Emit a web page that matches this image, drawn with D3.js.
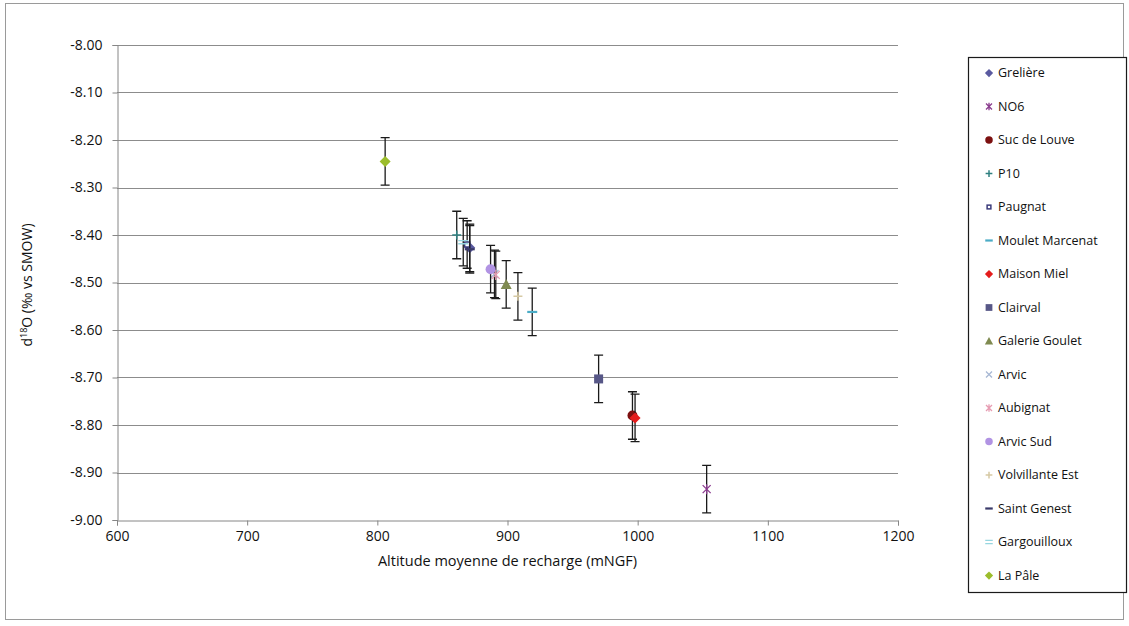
<!DOCTYPE html>
<html>
<head>
<meta charset="utf-8">
<script src="https://cdn.jsdelivr.net/npm/d3@7/dist/d3.min.js"></script>
<style>
  html, body { margin: 0; padding: 0; background: #fff; }
  svg { display: block; font-family: "Open Sans", sans-serif; }
</style>
</head>
<body>
<svg id="chart" width="1129" height="626"></svg>
<script>
// ---- data ----
const seriesNames = ["Grelière", "NO6", "Suc de Louve", "P10", "Paugnat", "Moulet Marcenat",
  "Maison Miel", "Clairval", "Galerie Goulet", "Arvic", "Aubignat", "Arvic Sud",
  "Volvillante Est", "Saint Genest", "Gargouilloux", "La Pâle"];
const altitude = [871, 1053, 996, 861, 869, 919, 998, 970, 899, 890, 891, 887, 908, 871, 866, 806];
const d18O = [-8.427, -8.935, -8.780, -8.400, -8.420, -8.562, -8.785, -8.703, -8.504, -8.482, -8.484, -8.472, -8.529, -8.430, -8.415, -8.245];
const errorValues = [0.05, 0.05, 0.05, 0.05, 0.05, 0.05, 0.05, 0.05, 0.05, 0.05, 0.05, 0.05, 0.05, 0.05, 0.05, 0.05];
const xTicks = [600, 700, 800, 900, 1000, 1100, 1200];
const yTicks = [-8.0, -8.1, -8.2, -8.3, -8.4, -8.5, -8.6, -8.7, -8.8, -8.9, -9.0];
const xTitle = "Altitude moyenne de recharge (mNGF)";

// ---- styles (separate from data) ----
const markerStyle = {
  "Grelière": { shape: "diamond", color: "#5a5aa0" },
  "NO6": { shape: "asterisk", color: "#8a3c8e" },
  "Suc de Louve": { shape: "circle", color: "#7c1010" },
  "P10": { shape: "plus", color: "#2f8080" },
  "Paugnat": { shape: "smallsquare", color: "#3c3c7c" },
  "Moulet Marcenat": { shape: "dash", color: "#4bacc6" },
  "Maison Miel": { shape: "diamond", color: "#e41c1c" },
  "Clairval": { shape: "square", color: "#575787" },
  "Galerie Goulet": { shape: "triangle", color: "#7f8a50" },
  "Arvic": { shape: "x", color: "#a8b8d4" },
  "Aubignat": { shape: "asterisk", color: "#e79cb2" },
  "Arvic Sud": { shape: "circle", color: "#b193e3" },
  "Volvillante Est": { shape: "plus", color: "#d6c9a4" },
  "Saint Genest": { shape: "dash", color: "#3a3a6a" },
  "Gargouilloux": { shape: "equals", color: "#97d6e0" },
  "La Pâle": { shape: "diamond", color: "#9cbd2c" }
};

const svg = d3.select("#chart");
const plot = { left: 117, right: 898, top: 45, bottom: 520 };
const textColor = "#111";

// outer chart border
svg.append("rect").attr("x", 5.5).attr("y", 3.5).attr("width", 1118).attr("height", 616)
  .attr("fill", "#fff").attr("stroke", "#9a9a9a").attr("stroke-width", 1);

const x = d3.scaleLinear().domain([600, 1200]).range([plot.left, plot.right]);
const y = d3.scaleLinear().domain([-9, -8]).range([plot.bottom, plot.top]);

// gridlines
svg.append("g").selectAll("line").data(yTicks.filter(t => t !== -9)).join("line")
  .attr("x1", plot.left).attr("x2", plot.right)
  .attr("y1", d => Math.round(y(d)) + 0.5).attr("y2", d => Math.round(y(d)) + 0.5)
  .attr("stroke", "#8c8c8c").attr("stroke-width", 1);

// axes
const axisColor = "#868686";
const yAxis = d3.axisLeft(y).tickValues(yTicks).tickSize(5).tickPadding(10)
  .tickFormat(d => d.toFixed(2));
const gy = svg.append("g").attr("transform", `translate(${plot.left + 0.5},0)`).call(yAxis);
gy.select(".domain").attr("stroke", axisColor);
gy.selectAll(".tick line").attr("stroke", axisColor);
gy.selectAll(".tick text").attr("fill", textColor).style("font-size", "14px")
  .style("font-family", "'Open Sans', sans-serif");

const xAxis = d3.axisBottom(x).tickValues(xTicks).tickSize(5).tickPadding(6)
  .tickFormat(d => String(d));
const gx = svg.append("g").attr("transform", `translate(0,${plot.bottom + 0.5})`).call(xAxis);
gx.select(".domain").attr("stroke", axisColor);
gx.selectAll(".tick line").attr("stroke", axisColor);
gx.selectAll(".tick text").attr("fill", textColor).style("font-size", "14px")
  .style("font-family", "'Open Sans', sans-serif");

// axis titles
svg.append("text").attr("x", (plot.left + plot.right) / 2).attr("y", 566)
  .attr("text-anchor", "middle").attr("fill", textColor).style("font-size", "14.5px")
  .text(xTitle);

const yTitle = svg.append("text").attr("transform", "translate(32,285) rotate(-90)")
  .attr("text-anchor", "middle").attr("fill", textColor).style("font-size", "14px");
yTitle.append("tspan").text("d");
yTitle.append("tspan").attr("dy", -5).style("font-size", "9px").text("18");
yTitle.append("tspan").attr("dy", 5).text("O (‰ vs SMOW)");

// marker drawing
function drawMarker(g, shape, color, s) {
  const k = s || 1;
  switch (shape) {
    case "diamond":
      g.append("path").attr("d", `M0,${-5.5 * k}L${5.5 * k},0L0,${5.5 * k}L${-5.5 * k},0Z`).attr("fill", color);
      break;
    case "circle":
      g.append("circle").attr("r", 5 * k).attr("fill", color);
      break;
    case "square":
      g.append("rect").attr("x", -4.5 * k).attr("y", -4.5 * k).attr("width", 9 * k).attr("height", 9 * k).attr("fill", color);
      break;
    case "smallsquare":
      g.append("rect").attr("x", -2.5 * k).attr("y", -2.5 * k).attr("width", 5 * k).attr("height", 5 * k)
        .attr("fill", "#fff").attr("stroke", color).attr("stroke-width", 1.5);
      break;
    case "triangle":
      g.append("path").attr("d", `M0,${-5.5 * k}L${5.5 * k},${4.5 * k}L${-5.5 * k},${4.5 * k}Z`).attr("fill", color);
      break;
    case "plus":
      g.append("path").attr("d", `M${-4.5 * k},0H${4.5 * k}M0,${-4.5 * k}V${4.5 * k}`).attr("stroke", color).attr("stroke-width", 1.5).attr("fill", "none");
      break;
    case "x":
      g.append("path").attr("d", `M${-4 * k},${-4 * k}L${4 * k},${4 * k}M${-4 * k},${4 * k}L${4 * k},${-4 * k}`).attr("stroke", color).attr("stroke-width", 1.3).attr("fill", "none");
      break;
    case "asterisk":
      g.append("path").attr("d", `M${-4 * k},${-4 * k}L${4 * k},${4 * k}M${-4 * k},${4 * k}L${4 * k},${-4 * k}M0,${-5 * k}V${5 * k}`).attr("stroke", color).attr("stroke-width", 1.3).attr("fill", "none");
      break;
    case "dash":
      g.append("path").attr("d", `M${-5 * k},0H${5 * k}`).attr("stroke", color).attr("stroke-width", 2.2).attr("fill", "none");
      break;
    case "equals":
      g.append("path").attr("d", `M${-5 * k},-1.6H${5 * k}M${-5 * k},1.6H${5 * k}`).attr("stroke", color).attr("stroke-width", 1.3).attr("fill", "none");
      break;
  }
}

// series: error bars + markers
const series = seriesNames.map((n, i) => ({ name: n, alt: altitude[i], v: d18O[i], e: errorValues[i] }));
const gData = svg.append("g");
series.forEach(d => {
  const g = gData.append("g");
  const cx = x(d.alt);
  const yTop = y(d.v + d.e), yBot = y(d.v - d.e);
  g.append("path")
    .attr("d", `M${cx},${yTop}V${yBot}M${cx - 4.5},${yTop}H${cx + 4.5}M${cx - 4.5},${yBot}H${cx + 4.5}`)
    .attr("stroke", "#1a1a1a").attr("stroke-width", 1.3).attr("fill", "none");
  const mg = g.append("g").attr("transform", `translate(${cx},${y(d.v)})`);
  drawMarker(mg, markerStyle[d.name].shape, markerStyle[d.name].color, 1);
});

// legend
const lg = svg.append("g");
lg.append("rect").attr("x", 968.5).attr("y", 57.5).attr("width", 158).attr("height", 535)
  .attr("fill", "#fff").attr("stroke", "#1a1a1a").attr("stroke-width", 1.2);
seriesNames.forEach((n, i) => {
  const yy = 73 + i * 33.5;
  const mg = lg.append("g").attr("transform", `translate(989,${yy})`);
  drawMarker(mg, markerStyle[n].shape, markerStyle[n].color, 0.75);
  lg.append("text").attr("x", 998).attr("y", yy).attr("dy", "0.35em")
    .attr("fill", textColor).style("font-size", "12.5px").text(n);
});
</script>
</body>
</html>
